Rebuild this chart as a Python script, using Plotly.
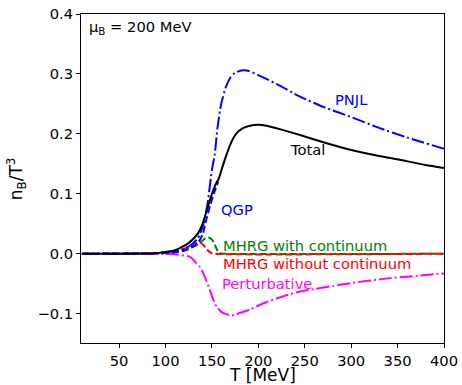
import plotly.graph_objects as go

# Temperature grids (MeV) and baryon-density curves n_B/T^3 at mu_B = 200 MeV
T_total = [10, 50, 80, 90, 100, 105, 110, 115, 120, 125, 130, 135, 140, 145, 148,
           152, 155, 156.7, 158, 160, 165, 170, 176, 183, 190, 200, 210, 225, 245,
           270, 300, 330, 355, 380, 400]
total = [0.0, 0.0, 0.0005, 0.001, 0.003, 0.004, 0.006, 0.009, 0.013, 0.018, 0.025,
         0.034, 0.05, 0.075, 0.09, 0.108, 0.119, 0.123, 0.128, 0.138, 0.162, 0.183,
         0.2, 0.209, 0.213, 0.215, 0.213, 0.207, 0.198, 0.186, 0.173, 0.163, 0.156,
         0.148, 0.143]

T_pnjl = [10, 80, 100, 110, 120, 125, 130, 135, 140, 145, 150, 153, 156, 160, 165,
          170, 175, 183, 190, 200, 220, 245, 270, 300, 330, 360, 400]
pnjl = [0.0, 0.0, 0.002, 0.004, 0.008, 0.012, 0.018, 0.026, 0.045, 0.08, 0.14,
        0.165, 0.21, 0.25, 0.278, 0.294, 0.302, 0.306, 0.305, 0.298, 0.283, 0.262,
        0.245, 0.228, 0.21, 0.194, 0.175]

T_qgp = [10, 100, 110, 120, 125, 130, 135, 137, 140, 144, 148, 152, 156.7]
qgp = [0.0, 0.001, 0.002, 0.005, 0.008, 0.012, 0.018, 0.023, 0.032, 0.057, 0.08,
       0.1, 0.12]

T_mhrg_c = [10, 90, 100, 110, 120, 125, 130, 135, 140, 143, 146, 149, 152, 154,
            156, 158, 162, 400]
mhrg_cont = [0.0, 0.0005, 0.002, 0.004, 0.007, 0.009, 0.012, 0.016, 0.022, 0.026,
             0.027, 0.025, 0.019, 0.012, 0.005, 0.001, 0.0, 0.0]

T_mhrg = [10, 90, 100, 110, 118, 123, 128, 133, 137, 140, 143, 146, 149, 152, 400]
mhrg_nocont = [0.0, 0.0005, 0.002, 0.004, 0.007, 0.01, 0.014, 0.018, 0.019, 0.016,
               0.01, 0.005, 0.0015, 0.0, 0.0]

T_pert = [10, 100, 110, 120, 126, 130, 133, 137, 140.5, 144, 147.7, 151, 155, 160,
          164, 171, 180, 191, 205, 227, 245, 260, 280, 300, 335, 370, 400]
pert = [0.0, -0.0005, -0.001, -0.003, -0.005, -0.01, -0.016, -0.022, -0.032, -0.045,
        -0.06, -0.075, -0.088, -0.097, -0.1, -0.103, -0.099, -0.093, -0.083, -0.071,
        -0.063, -0.059, -0.054, -0.049, -0.042, -0.037, -0.033]

x_ticks = [50, 100, 150, 200, 250, 300, 350, 400]
y_ticks = [-0.1, 0.0, 0.1, 0.2, 0.3, 0.4]

FONT = "DejaVu Sans"
DASH = "7px,3px"
DASHDOT = "13px,3px,2px,3px"

fig = go.Figure()


def add_curve(x, y, color, dash):
    fig.add_trace(go.Scatter(
        x=x, y=y, mode="lines",
        line=dict(color=color, width=2, dash=dash, shape="spline", smoothing=0.6),
        showlegend=False, hoverinfo="skip",
    ))


add_curve(T_mhrg_c, mhrg_cont, "green", DASH)
add_curve(T_mhrg, mhrg_nocont, "red", DASH)
add_curve(T_pert, pert, "magenta", DASHDOT)
add_curve(T_qgp, qgp, "blue", DASH)
add_curve(T_pnjl, pnjl, "blue", DASHDOT)
add_curve(T_total, total, "black", "solid")

labels = [
    ("PNJL", 280.3, 0.258, "blue"),
    ("Total", 231.8, 0.174, "black"),
    ("QGP", 157.4, 0.073, "blue"),
    ("MHRG with continuum", 160.3, 0.014, "green"),
    ("MHRG without continuum", 160.3, -0.016, "red"),
    ("Perturbative", 158.5, -0.05, "magenta"),
]
for text, tx, ty, col in labels:
    fig.add_annotation(x=tx, y=ty, xref="x", yref="y", text=text, showarrow=False,
                       xanchor="left", yanchor="middle",
                       font=dict(family=FONT, size=14.7, color=col))

fig.add_annotation(x=0.016, y=0.959, xref="paper", yref="paper",
                   text="μ<sub>B</sub> = 200 MeV", showarrow=False,
                   xanchor="left", yanchor="middle",
                   font=dict(family=FONT, size=14.7, color="black"))

# axis titles
fig.add_annotation(x=0.5, y=-0.097, xref="paper", yref="paper", text="T [MeV]",
                   showarrow=False, xanchor="center", yanchor="middle",
                   font=dict(family=FONT, size=17, color="black"))
fig.add_annotation(x=-0.177, y=0.5, xref="paper", yref="paper",
                   text="n<sub>B</sub>/T<sup>3</sup>", textangle=-90,
                   showarrow=False, xanchor="center", yanchor="middle",
                   font=dict(family=FONT, size=17, color="black"))

axis_common = dict(
    showline=True, mirror=True, linecolor="black", linewidth=1,
    ticks="outside", ticklen=4, tickwidth=1, tickcolor="black",
    showgrid=False, zeroline=False, automargin=False,
    tickfont=dict(family=FONT, size=14.7, color="black"),
)
fig.update_xaxes(range=[9, 400], tickvals=x_ticks, **axis_common)
fig.update_yaxes(range=[-0.149, 0.4], tickvals=y_ticks, tickformat=".1f",
                 **axis_common)

fig.update_layout(
    width=462, height=385,
    margin=dict(l=81, r=18, t=14, b=42, autoexpand=False),
    plot_bgcolor="white", paper_bgcolor="white",
    font=dict(family=FONT),
)

fig.write_html("out.html")
